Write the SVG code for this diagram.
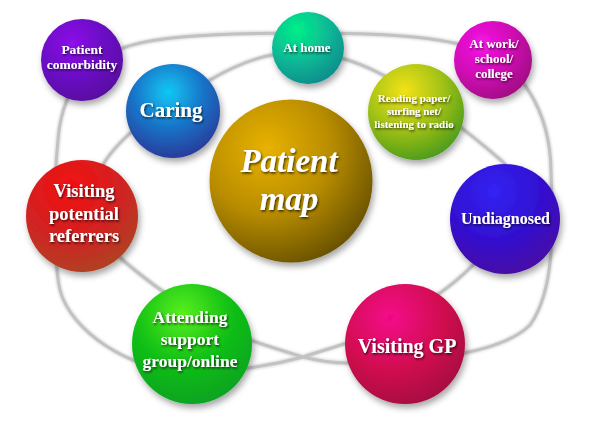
<svg xmlns="http://www.w3.org/2000/svg" width="598" height="425" viewBox="0 0 598 425">
<defs>
<filter id="ds" x="-30%" y="-30%" width="160%" height="160%"><feDropShadow dx="2" dy="4" stdDeviation="3" flood-color="#000" flood-opacity="0.35"/></filter>
<filter id="ts" x="-10%" y="-20%" width="120%" height="150%"><feDropShadow dx="1" dy="1.5" stdDeviation="0.8" flood-color="#000" flood-opacity="0.7"/></filter>
<filter id="rb" x="-10%" y="-10%" width="120%" height="120%"><feGaussianBlur stdDeviation="1.2"/></filter>
<radialGradient id="gCom" cx="0.38" cy="0.3" r="0.75"><stop offset="0" stop-color="#8c12e8"/><stop offset="0.55" stop-color="#6a0cc4"/><stop offset="1" stop-color="#58089e"/></radialGradient>
<radialGradient id="gCar" cx="0.45" cy="0.3" r="0.75"><stop offset="0" stop-color="#10c8f4"/><stop offset="0.5" stop-color="#1874c8"/><stop offset="1" stop-color="#2c3494"/></radialGradient>
<radialGradient id="gHom" cx="0.35" cy="0.25" r="0.8"><stop offset="0" stop-color="#00f088"/><stop offset="0.55" stop-color="#0cb896"/><stop offset="1" stop-color="#0a8c8c"/></radialGradient>
<radialGradient id="gWrk" cx="0.35" cy="0.3" r="0.75"><stop offset="0" stop-color="#f614e6"/><stop offset="0.55" stop-color="#d00cb4"/><stop offset="1" stop-color="#a00882"/></radialGradient>
<radialGradient id="gRd" cx="0.38" cy="0.28" r="0.75"><stop offset="0" stop-color="#f2e212"/><stop offset="0.5" stop-color="#a8c414"/><stop offset="1" stop-color="#4c9c1c"/></radialGradient>
<radialGradient id="gMap" cx="0.35" cy="0.3" r="0.8"><stop offset="0" stop-color="#e8b200"/><stop offset="0.5" stop-color="#b88c04"/><stop offset="1" stop-color="#5e4a04"/></radialGradient>
<radialGradient id="gUnd" cx="0.4" cy="0.25" r="0.8"><stop offset="0" stop-color="#3422f2"/><stop offset="0.55" stop-color="#3210d0"/><stop offset="1" stop-color="#4a10a0"/></radialGradient>
<radialGradient id="gRef" cx="0.4" cy="0.25" r="0.8"><stop offset="0" stop-color="#f40e10"/><stop offset="0.55" stop-color="#d22222"/><stop offset="1" stop-color="#ac4420"/></radialGradient>
<radialGradient id="gAtt" cx="0.42" cy="0.25" r="0.8"><stop offset="0" stop-color="#58f020"/><stop offset="0.5" stop-color="#12c014"/><stop offset="1" stop-color="#08a024"/></radialGradient>
<radialGradient id="gGP" cx="0.38" cy="0.28" r="0.8"><stop offset="0" stop-color="#f4068a"/><stop offset="0.55" stop-color="#d0104e"/><stop offset="1" stop-color="#a01040"/></radialGradient>
</defs>
<style>
.ball{filter:url(#ds)}
text{font-family:"Liberation Serif","Times New Roman",serif;font-weight:bold;fill:#fff;text-anchor:middle;filter:url(#ts)}
.ring{fill:none;stroke:#c2c2c2;stroke-width:3}
.ringb{fill:none;stroke:#b0b0b0;stroke-width:5;opacity:0.45;filter:url(#rb)}
</style>
<g id="connectors">
<path class="ringb" d="M303 357 C270 366 230 372 190 372 C130 372 70 330 60 290 C54 265 53 190 58 140 C61 100 80 60 123 48 C150 38 200 33 300 33 C380 33 440 36 480 50 C520 65 550 110 551 170 C553 230 555 290 530 325 C505 350 440 362 347 363 C330 363 315 360 303 357 C318 352 335 347 347 343 C380 330 420 305 440 293 C480 265 540 200 503 162 C470 133 420 95 383 75 C360 63 330 52 300 52 C270 52 240 62 210 80 C160 105 115 140 100 170 C85 200 100 240 125 262 C160 292 210 325 250 340 C270 347 290 353 303 357 Z"/>
<path class="ring" d="M303 357 C270 366 230 372 190 372 C130 372 70 330 60 290 C54 265 53 190 58 140 C61 100 80 60 123 48 C150 38 200 33 300 33 C380 33 440 36 480 50 C520 65 550 110 551 170 C553 230 555 290 530 325 C505 350 440 362 347 363 C330 363 315 360 303 357 C318 352 335 347 347 343 C380 330 420 305 440 293 C480 265 540 200 503 162 C470 133 420 95 383 75 C360 63 330 52 300 52 C270 52 240 62 210 80 C160 105 115 140 100 170 C85 200 100 240 125 262 C160 292 210 325 250 340 C270 347 290 353 303 357 Z"/>
</g>
<g id="patient-comorbidity"><circle class="ball" cx="82" cy="60" r="41" fill="url(#gCom)"/><text font-size="13.5"><tspan x="82" y="54">Patient</tspan><tspan x="82" y="69">comorbidity</tspan></text></g>
<g id="at-home"><circle class="ball" cx="308" cy="48" r="36" fill="url(#gHom)"/><text font-size="13" x="307" y="52">At home</text></g>
<g id="at-work"><circle class="ball" cx="493" cy="60" r="39" fill="url(#gWrk)"/><text font-size="13"><tspan x="494" y="48">At work/</tspan><tspan x="494" y="63">school/</tspan><tspan x="494" y="78">college</tspan></text></g>
<g id="caring"><circle class="ball" cx="173" cy="111" r="47" fill="url(#gCar)"/><text font-size="21" x="171" y="117">Caring</text></g>
<g id="reading"><circle class="ball" cx="416" cy="112" r="48" fill="url(#gRd)"/><text font-size="11"><tspan x="414" y="102">Reading paper/</tspan><tspan x="414" y="115">surfing net/</tspan><tspan x="414" y="128">listening to radio</tspan></text></g>
<g id="patient-map"><circle class="ball" cx="291" cy="181" r="81.5" fill="url(#gMap)"/><text font-size="33" font-style="italic"><tspan x="289" y="172">Patient</tspan><tspan x="289" y="210">map</tspan></text></g>
<g id="visiting-referrers"><circle class="ball" cx="82" cy="216" r="56" fill="url(#gRef)"/><text font-size="18.5"><tspan x="84" y="197">Visiting</tspan><tspan x="84" y="220">potential</tspan><tspan x="84" y="242">referrers</tspan></text></g>
<g id="undiagnosed"><circle class="ball" cx="505" cy="219" r="55" fill="url(#gUnd)"/><text font-size="16" x="505.5" y="224">Undiagnosed</text></g>
<g id="attending"><circle class="ball" cx="192" cy="344" r="60" fill="url(#gAtt)"/><text font-size="17.5"><tspan x="190" y="323">Attending</tspan><tspan x="190" y="345">support</tspan><tspan x="190" y="367">group/online</tspan></text></g>
<g id="visiting-gp"><circle class="ball" cx="405" cy="344" r="60" fill="url(#gGP)"/><text font-size="20" x="407" y="353">Visiting GP</text></g>
</svg>
